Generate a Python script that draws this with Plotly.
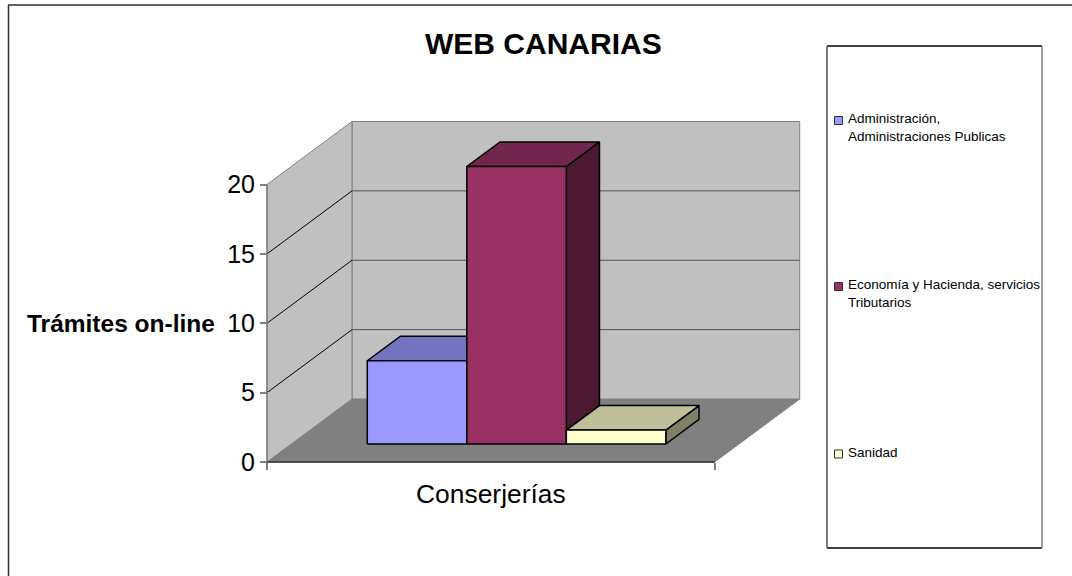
import plotly.graph_objects as go

CATEGORIES = ["Conserjerías"]
SERIES_NAMES = ["Administración,<br>Administraciones Publicas",
                "Economía y Hacienda, servicios<br>Tributarios",
                "Sanidad"]
SERIES_VALUES = [6, 20, 1]
FRONT_COLORS = ["#9999FF", "#993366", "#FFFFCC"]
TOP_COLORS = ["#7373BF", "#73264D", "#BFBF99"]
SIDE_COLORS = ["#4C4C80", "#4C1933", "#808066"]
Y_TICKS = [0, 5, 10, 15, 20]
TITLE = "WEB CANARIAS"
Y_TITLE = "Trámites on-line"

W, H = 1072, 576
X0, X1, Y0, Y20 = 267, 714.7, 462, 184.5
UX = X1 - X0
UY = (Y0 - Y20) / 20
DX, DY = 85, 63            # pixel shift of the full floor depth
BAR_W = 0.2223
BAR_START = 0.1697
D_FRONT, D_BACK = 0.286, 0.676


def proj(x, v, d):
    return x + d * DX / UX, v + d * DY / UY


def poly(points, fill, line, name, width=1):
    xs, ys = zip(*[proj(*p) for p in points + points[:1]])
    return go.Scatter(x=xs, y=ys, mode="lines", fill="toself", fillcolor=fill,
                      line=dict(color=line, width=width), name=name,
                      hoverinfo="skip", showlegend=False)


def seg(a, b, color, width=1):
    xs, ys = zip(proj(*a), proj(*b))
    return go.Scatter(x=xs, y=ys, mode="lines", line=dict(color=color, width=width),
                      hoverinfo="skip", showlegend=False)


fig = go.Figure()
top = Y_TICKS[-1]
fig.add_trace(poly([(0, 0, 0), (1, 0, 0), (1, 0, 1), (0, 0, 1)], "#808080", "#808080", "floor"))
fig.add_trace(poly([(0, 0, 1), (1, 0, 1), (1, top, 1), (0, top, 1)], "#C0C0C0", "#808080", "back wall"))
fig.add_trace(poly([(0, 0, 0), (0, 0, 1), (0, top, 1), (0, top, 0)], "#C0C0C0", "#808080", "side wall"))
for v in Y_TICKS[1:-1]:
    fig.add_trace(seg((0, v, 0), (0, v, 1), "#000000"))
    fig.add_trace(seg((0, v, 1), (1, v, 1), "#505050"))
fig.add_trace(seg((0, 0, 0), (0, top, 0), "#808080", 1.5))
fig.add_trace(seg((0, 0, 0), (1, 0, 0), "#303030", 1.5))

for i, (val, name) in enumerate(zip(SERIES_VALUES, SERIES_NAMES)):
    a = BAR_START + i * BAR_W
    b = a + BAR_W
    label = name.replace("<br>", " ")
    fig.add_trace(poly([(b, 0, D_FRONT), (b, 0, D_BACK), (b, val, D_BACK), (b, val, D_FRONT)],
                       SIDE_COLORS[i], "#000000", label + " side", 1.5))
    fig.add_trace(poly([(a, val, D_FRONT), (b, val, D_FRONT), (b, val, D_BACK), (a, val, D_BACK)],
                       TOP_COLORS[i], "#000000", label + " top", 1.5))
    fig.add_trace(poly([(a, 0, D_FRONT), (b, 0, D_FRONT), (b, val, D_FRONT), (a, val, D_FRONT)],
                       FRONT_COLORS[i], "#000000", label, 1.5))

FONT = "Liberation Sans"


def px(x):
    return x / W


def py(y):
    return 1 - y / H


def line_shape(x0, y0, x1, y1, color, width=1.5):
    return dict(type="line", xref="paper", yref="paper", x0=px(x0), y0=py(y0), x1=px(x1), y1=py(y1),
                line=dict(color=color, width=width))


shapes = [
    line_shape(8.5, 5, 8.5, 576, "#303030"),
    line_shape(8, 5, 1072, 5, "#303030"),
    line_shape(827, 46, 1042, 46, "#000000"),
    line_shape(827, 548, 1042, 548, "#000000"),
    line_shape(827, 46, 827, 548, "#505050"),
    line_shape(1042, 46, 1042, 548, "#808080"),
]
annotations = [
    dict(text=f"<b>{TITLE}</b>", x=px(543), y=py(43), xref="paper", yref="paper", showarrow=False,
         xanchor="center", yanchor="middle", font=dict(family=FONT, size=30, color="#000000")),
    dict(text=f"<b>{Y_TITLE}</b>", x=px(120.5), y=py(323), xref="paper", yref="paper", showarrow=False,
         xanchor="center", yanchor="middle", font=dict(family=FONT, size=24.5, color="#000000")),
]
LEGEND_Y = [120.5, 286.5, 454]
for name, color, y in zip(SERIES_NAMES, FRONT_COLORS, LEGEND_Y):
    shapes.append(dict(type="rect", xref="paper", yref="paper", x0=px(834.5), x1=px(842.5),
                       y0=py(y - 4), y1=py(y + 4), fillcolor=color,
                       line=dict(color="#303030", width=1)))
    annotations.append(dict(text=name, x=px(846.5), y=py(y - 10.5), xref="paper", yref="paper",
                            showarrow=False, xanchor="left", yanchor="top", align="left",
                            borderpad=0, font=dict(family=FONT, size=13.5, color="#000000")))

fig.update_layout(
    width=W, height=H, margin=dict(l=0, r=0, t=0, b=0), showlegend=False,
    paper_bgcolor="#FFFFFF", plot_bgcolor="#FFFFFF",
    shapes=shapes, annotations=annotations,
    xaxis=dict(range=[-X0 / UX, (W - X0) / UX], anchor="free", position=(H - Y0) / H,
               tickmode="array", tickvals=[0.5], ticktext=CATEGORIES, ticks="", ticklabelstandoff=14,
               showgrid=False, zeroline=False, showline=False,
               tickfont=dict(family=FONT, size=26.4, color="#000000"),
               minor=dict(tickmode="array", tickvals=[0, 1], ticks="outside", ticklen=7,
                          tickcolor="#808080", tickwidth=1.5, showgrid=False)),
    yaxis=dict(range=[(Y0 - H) / UY, Y0 / UY], anchor="free", position=X0 / W,
               tickmode="array", tickvals=Y_TICKS, ticks="outside", ticklen=7,
               tickcolor="#808080", tickwidth=1.5, showgrid=False, zeroline=False, showline=False,
               tickfont=dict(family=FONT, size=25, color="#000000")),
)
fig.write_html("out.html", config=dict(displayModeBar=False),
               post_script="document.body.style.margin='0';document.body.style.overflow='hidden';")
